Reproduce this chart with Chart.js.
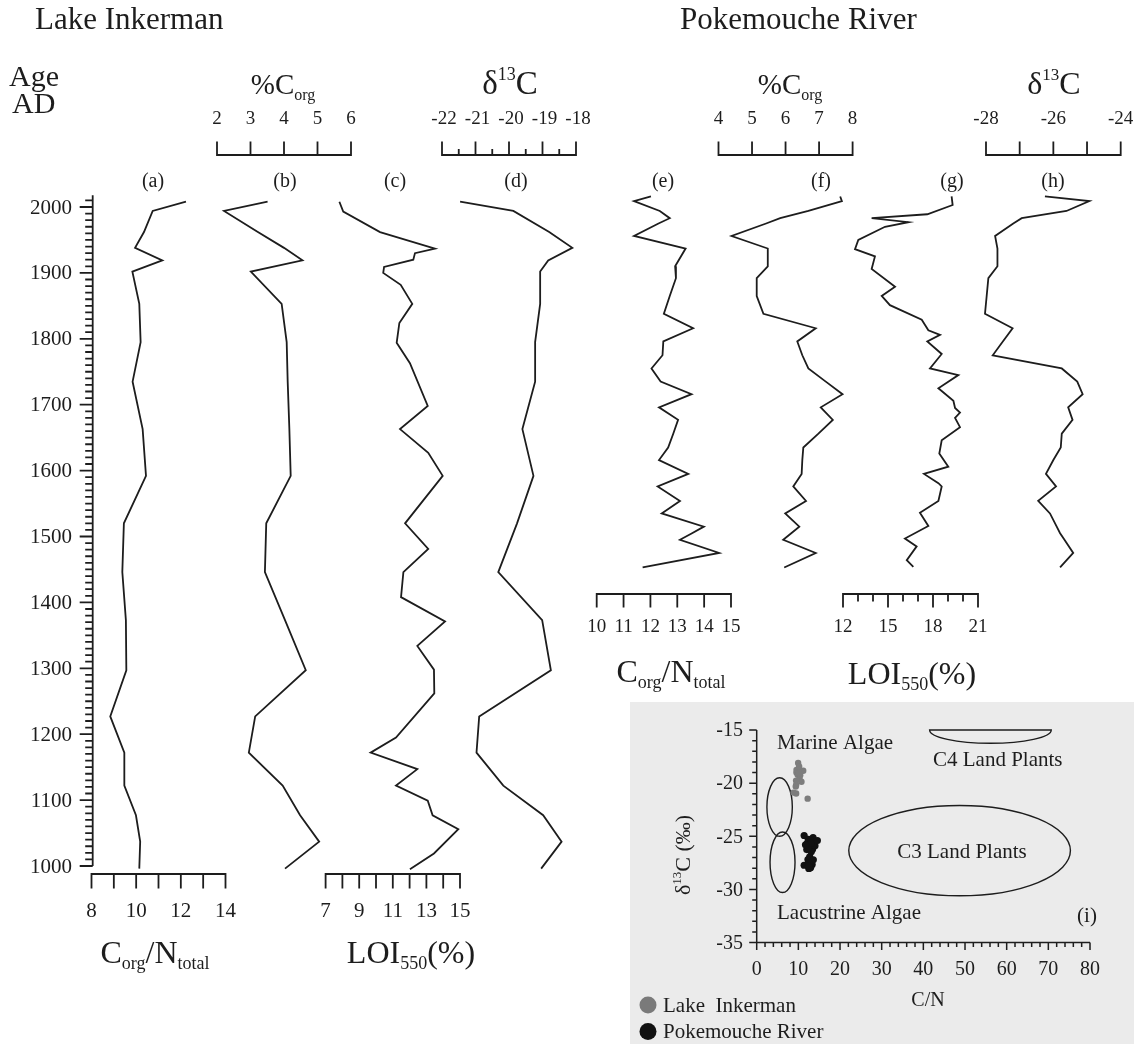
<!DOCTYPE html>
<html>
<head>
<meta charset="utf-8">
<title>Lake Inkerman and Pokemouche River sediment records</title>
<script src="https://cdn.jsdelivr.net/npm/chart.js@4.4.1/dist/chart.umd.min.js"></script>
<style>
  html, body { margin: 0; padding: 0; background: #ffffff; }
  #wrap { position: relative; width: 1138px; height: 1044px; }
  canvas { display: block; }
</style>
</head>
<body>
<div id="wrap"><canvas id="cores" width="1138" height="1044"></canvas></div>
<script>
// ---------------- Lake Inkerman core ----------------
const inkAge   = [2008, 1994, 1962, 1938, 1919, 1902, 1853, 1795, 1735, 1663, 1592, 1520, 1446, 1373, 1297, 1227, 1172, 1122, 1077, 1037, 996];
const inkCN    = [12.23, 10.74, 10.35, 9.95, 11.17, 9.83, 10.14, 10.2, 9.84, 10.29, 10.44, 9.45, 9.38, 9.54, 9.56, 8.84, 9.47, 9.47, 9.99, 10.18, 10.14];
const inkCorg  = [3.51, 2.21, 3.22, 4.0, 4.55, 3.01, 3.93, 4.08, 4.11, 4.16, 4.2, 3.47, 3.43, 4.03, 4.65, 3.14, 2.95, 3.96, 4.48, 5.05, 4.03];
const inkD13C  = [-21.46, -19.87, -18.8, -18.11, -18.83, -19.07, -19.07, -19.22, -19.22, -19.6, -19.27, -19.76, -20.32, -19.01, -18.75, -20.89, -20.97, -20.17, -18.98, -18.43, -19.04];
const inkLoiAge = [2008, 1993, 1962, 1937, 1930, 1920, 1909, 1900, 1882, 1853, 1824, 1794, 1763, 1698, 1663, 1627, 1592, 1520, 1481, 1446, 1408, 1371, 1334, 1298, 1262, 1195, 1172, 1147, 1122, 1099, 1077, 1056, 1019, 995];
const inkLoi    = [7.82, 8.05, 10.24, 13.51, 12.32, 12.22, 10.48, 10.43, 11.47, 12.16, 11.39, 11.23, 12.02, 13.08, 11.43, 13.11, 13.97, 11.73, 13.11, 11.63, 11.49, 14.11, 12.46, 13.45, 13.47, 11.19, 9.68, 12.46, 11.19, 13.08, 13.37, 14.9, 13.45, 12.02];

// ---------------- Pokemouche River core ----------------
const pokAge   = [2016, 2009, 1994, 1983, 1975, 1956, 1937, 1910, 1892, 1865, 1838, 1816, 1796, 1775, 1755, 1735, 1716, 1696, 1677, 1656, 1635, 1616, 1595, 1576, 1554, 1535, 1515, 1505, 1495, 1475, 1453];
const pokCN    = [12.02, 11.39, 12.35, 12.72, 12.3, 11.39, 13.31, 12.92, 12.95, 12.72, 12.5, 13.59, 12.48, 12.45, 12.04, 12.38, 13.53, 12.32, 13.03, 12.85, 12.66, 12.32, 13.41, 12.27, 13.1, 12.42, 13.99, 13.55, 13.1, 14.56, 11.71];
const pokCorg  = [7.63, 7.68, 6.68, 5.84, 5.42, 4.39, 5.47, 5.47, 5.14, 5.14, 5.34, 6.9, 6.35, 6.5, 6.68, 7.2, 7.7, 7.05, 7.41, 6.98, 6.53, 6.5, 6.48, 6.23, 6.61, 5.99, 6.41, 6.17, 5.93, 6.9, 5.96];
const pokD13C  = [-26.25, -24.93, -25.61, -26.94, -27.19, -27.73, -27.66, -27.66, -27.93, -27.98, -28.03, -27.21, -27.5, -27.8, -25.75, -25.29, -25.13, -25.56, -25.43, -25.75, -25.78, -26.0, -26.22, -25.92, -26.45, -26.1, -25.9, -25.8, -25.67, -25.41, -25.8];
const pokLoiAge = [2016, 2003, 1989, 1983, 1977, 1970, 1950, 1936, 1925, 1906, 1879, 1865, 1851, 1829, 1813, 1806, 1796, 1777, 1755, 1745, 1725, 1706, 1695, 1688, 1680, 1666, 1646, 1626, 1606, 1595, 1581, 1576, 1554, 1536, 1516, 1497, 1485, 1464, 1454];
const pokLoi    = [19.24, 19.31, 17.62, 13.91, 16.36, 14.8, 13.02, 12.8, 14.13, 13.91, 15.47, 14.58, 15.13, 17.25, 17.69, 18.47, 17.62, 18.58, 17.8, 19.69, 18.36, 19.36, 19.47, 19.8, 19.47, 19.8, 18.58, 18.42, 19.02, 17.4, 18.36, 18.58, 18.36, 17.13, 17.69, 16.13, 16.91, 16.25, 16.69];

// ---------------- Organic-matter source fields (C/N, δ13C) ----------------
const fieldNames    = ['Marine Algae', 'Lacustrine Algae', 'C3 Land Plants', 'C4 Land Plants'];
const fieldCN       = [5.5, 6.2, 48.7, 56.1];
const fieldD13C     = [-22.25, -27.45, -26.35, -15];
const fieldCNHalf   = [3.05, 3.0, 26.6, 14.6];
const fieldD13CHalf = [2.75, 2.85, 4.25, 1.25];

// ---------------- Tick labels ----------------
const ageTicks       = [1000, 1100, 1200, 1300, 1400, 1500, 1600, 1700, 1800, 1900, 2000];
const inkCNTicks     = [8, 10, 12, 14];
const inkCorgTicks   = [2, 3, 4, 5, 6];
const inkLoiTicks    = [7, 9, 11, 13, 15];
const inkD13CTicks   = [-22, -21, -20, -19, -18];
const pokCNTicks     = [10, 11, 12, 13, 14, 15];
const pokCorgTicks   = [4, 5, 6, 7, 8];
const pokLoiTicks    = [12, 15, 18, 21];
const pokD13CTicks   = [-28, -26, -24];
const mixCNTicks     = [0, 10, 20, 30, 40, 50, 60, 70, 80];
const mixD13CTicks   = [-15, -20, -25, -30, -35];

// ---------------- layout ----------------
const W = 1138, H = 1044;
const SERIF = '"Liberation Serif", "Times New Roman", "DejaVu Serif", serif';
const INK = '#1d1d1d';

// A linear scale spanning the whole canvas, anchored so that v0 sits at pixel p0 and v1 at p1.
function span(axis, v0, p0, v1, p1) {
  if (axis === 'x') {
    const k = (p1 - p0) / (v1 - v0);
    return { type: 'linear', axis: 'x', display: false, min: v0 - p0 / k, max: v0 + (W - p0) / k };
  }
  const k = (p0 - p1) / (v1 - v0);
  return { type: 'linear', axis: 'y', display: false, min: v0 - (H - p0) / k, max: v0 + p0 / k };
}

const pairs = (xs, ys) => xs.map((v, i) => ({ x: v, y: ys[i] }));
const profile = (vals, ages, xAxisID) => ({
  type: 'scatter', data: pairs(vals, ages), xAxisID, yAxisID: 'yAge',
  showLine: true, borderColor: INK, borderWidth: 1.8, pointRadius: 0, tension: 0,
  borderJoinStyle: 'miter', fill: false
});

// rich text: parts = [text, size, baselineShift]
function rich(ctx, x, y, parts, align) {
  let w = 0;
  parts.forEach(p => { ctx.font = p[1] + 'px ' + SERIF; w += ctx.measureText(p[0]).width; });
  let cx = align === 'center' ? x - w / 2 : align === 'right' ? x - w : x;
  ctx.textAlign = 'left';
  ctx.textBaseline = 'alphabetic';
  parts.forEach(p => {
    ctx.font = p[1] + 'px ' + SERIF;
    ctx.fillText(p[0], cx, y + (p[2] || 0));
    cx += ctx.measureText(p[0]).width;
  });
}

function seg(ctx, x1, y1, x2, y2) { ctx.moveTo(x1, y1); ctx.lineTo(x2, y2); }

// horizontal axis drawn from a chart scale
function hAxis(ctx, sc, o) {
  const px = v => sc.getPixelForValue(v);
  ctx.beginPath();
  seg(ctx, px(o.from), o.y, px(o.to), o.y);
  if (o.minor) for (let v = o.from; v <= o.to + 1e-9; v += o.minor) seg(ctx, px(v), o.y, px(v), o.y + o.dir * o.minorLen);
  for (let v = o.from; v <= o.to + 1e-9; v += o.major) seg(ctx, px(v), o.y, px(v), o.y + o.dir * o.majorLen);
  ctx.lineWidth = o.lw || 1.8;
  ctx.strokeStyle = INK;
  ctx.lineCap = 'square';
  ctx.stroke();
  ctx.fillStyle = INK;
  o.labels.forEach(v => rich(ctx, px(v) + (o.dx || 0), o.labelY, [[String(v), o.size]], 'center'));
}

const TOP_AXIS_Y = 155, TOP_LABEL_Y = 124, HEAD_Y = 94;

const coreLayout = {
  id: 'coreLayout',
  beforeDatasetsDraw(chart) {
    const ctx = chart.ctx, s = chart.scales;
    ctx.save();

    // mixing-diagram panel background
    ctx.fillStyle = '#ebebeb';
    ctx.fillRect(630, 702, 504, 342);

    ctx.fillStyle = INK;
    // site headings and age label
    rich(ctx, 35, 29, [['Lake Inkerman', 31]], 'left');
    rich(ctx, 680, 29, [['Pokemouche River', 31]], 'left');
    rich(ctx, 9, 86, [['Age', 30]], 'left');
    rich(ctx, 12, 113, [['AD', 30]], 'left');

    // age axis
    const ya = v => s.yAge.getPixelForValue(v);
    const ax = 92.7;
    ctx.beginPath();
    seg(ctx, ax, ya(2018), ax, ya(1000));
    for (let yr = 1000; yr <= 2010; yr += 10) {
      const len = yr % 100 === 0 ? 13 : 7.5;
      seg(ctx, ax - len, ya(yr), ax, ya(yr));
    }
    ctx.lineWidth = 1.8; ctx.strokeStyle = INK; ctx.lineCap = 'butt';
    ctx.stroke();
    ctx.fillStyle = INK;
    ctx.font = '21px ' + SERIF; ctx.textAlign = 'right'; ctx.textBaseline = 'middle';
    ageTicks.forEach(yr => ctx.fillText(String(yr), 72, ya(yr) + 1));

    // top axes
    hAxis(ctx, s.xInkCorg, { y: TOP_AXIS_Y, from: 2, to: 6, major: 1, majorLen: 12.5, dir: -1, labels: inkCorgTicks, labelY: TOP_LABEL_Y, size: 19 });
    hAxis(ctx, s.xInkD13C, { y: TOP_AXIS_Y, from: -22, to: -18, major: 1, majorLen: 12.5, minor: 0.5, minorLen: 5, dir: -1, labels: inkD13CTicks, labelY: TOP_LABEL_Y, size: 19, dx: 2 });
    hAxis(ctx, s.xPokCorg, { y: TOP_AXIS_Y, from: 4, to: 8, major: 1, majorLen: 12.5, dir: -1, labels: pokCorgTicks, labelY: TOP_LABEL_Y, size: 19 });
    hAxis(ctx, s.xPokD13C, { y: TOP_AXIS_Y, from: -28, to: -24, major: 1, majorLen: 12.5, dir: -1, labels: pokD13CTicks, labelY: TOP_LABEL_Y, size: 19 });

    // bottom axes
    hAxis(ctx, s.xInkCN,  { y: 874, from: 8, to: 14, major: 1, majorLen: 13.5, dir: 1, labels: inkCNTicks, labelY: 917, size: 21 });
    hAxis(ctx, s.xInkLoi, { y: 874, from: 7, to: 15, major: 1, majorLen: 13.5, dir: 1, labels: inkLoiTicks, labelY: 917, size: 21 });
    hAxis(ctx, s.xPokCN,  { y: 594, from: 10, to: 15, major: 1, majorLen: 12.5, dir: 1, labels: pokCNTicks, labelY: 632, size: 19 });
    hAxis(ctx, s.xPokLoi, { y: 594, from: 12, to: 21, major: 3, majorLen: 12.5, minor: 1, minorLen: 6.5, dir: 1, labels: pokLoiTicks, labelY: 632, size: 19 });

    ctx.fillStyle = INK;
    // proxy headings
    rich(ctx, 283, HEAD_Y, [['%C', 29], ['org', 16, 6]], 'center');
    rich(ctx, 510, HEAD_Y, [['\u03B4', 33], ['13', 18, -14], ['C', 33]], 'center');
    rich(ctx, 790, HEAD_Y, [['%C', 29], ['org', 16, 6]], 'center');
    rich(ctx, 1054, HEAD_Y, [['\u03B4', 32], ['13', 17, -14], ['C', 32]], 'center');
    rich(ctx, 155, 963, [['C', 32], ['org', 18, 6], ['/N', 32], ['total', 18, 6]], 'center');
    rich(ctx, 411, 963, [['LOI', 32], ['550', 18, 6], ['(%)', 32]], 'center');
    rich(ctx, 671, 682, [['C', 32], ['org', 18, 6], ['/N', 32], ['total', 18, 6]], 'center');
    rich(ctx, 912, 684, [['LOI', 32], ['550', 18, 6], ['(%)', 32]], 'center');

    // panel letters
    [['(a)', 153], ['(b)', 285], ['(c)', 395], ['(d)', 516], ['(e)', 663], ['(f)', 821], ['(g)', 952], ['(h)', 1053]]
      .forEach(p => rich(ctx, p[1], 187, [[p[0], 20]], 'center'));

    // mixing diagram axes
    const mx = v => s.xMix.getPixelForValue(v), my = v => s.yMix.getPixelForValue(v);
    const x0 = mx(0), yb = my(-35);
    ctx.beginPath();
    seg(ctx, x0, my(-15), x0, yb);
    seg(ctx, x0, yb, mx(80), yb);
    for (let v = -35; v <= -15; v += 1) seg(ctx, x0 - (v % 5 === 0 ? 7.5 : 4.5), my(v), x0, my(v));
    for (let v = 0; v <= 80; v += 2) seg(ctx, mx(v), yb, mx(v), yb + (v % 10 === 0 ? 7.5 : 4.5));
    ctx.lineWidth = 1.5; ctx.strokeStyle = INK; ctx.lineCap = 'butt';
    ctx.stroke();
    ctx.fillStyle = INK;
    ctx.font = '20px ' + SERIF;
    ctx.textAlign = 'right'; ctx.textBaseline = 'middle';
    mixD13CTicks.forEach(v => ctx.fillText(String(v), 743, my(v) + 1));
    ctx.textAlign = 'center'; ctx.textBaseline = 'alphabetic';
    mixCNTicks.forEach(v => ctx.fillText(String(v), mx(v), 975));
    rich(ctx, 928, 1006, [['C/N', 20]], 'center');
    ctx.save();
    ctx.translate(690, 855);
    ctx.rotate(-Math.PI / 2);
    rich(ctx, 0, 0, [['\u03B4', 22], ['13', 13, -9], ['C (\u2030)', 22]], 'center');
    ctx.restore();

    // source fields
    ctx.beginPath();
    for (let i = 0; i < fieldNames.length; i++) {
      const cx = mx(fieldCN[i]), cy = my(fieldD13C[i]);
      const rx = Math.abs(mx(fieldCN[i] + fieldCNHalf[i]) - cx);
      const ry = Math.abs(my(fieldD13C[i] + fieldD13CHalf[i]) - cy);
      ctx.moveTo(cx + rx, cy);
      if (fieldD13C[i] >= -15) {
        // field cut by the top of the diagram: lower half plus the chord
        ctx.ellipse(cx, cy, rx, ry, 0, 0, Math.PI);
        ctx.closePath();
      } else {
        ctx.ellipse(cx, cy, rx, ry, 0, 0, Math.PI * 2);
      }
    }
    ctx.lineWidth = 1.4; ctx.strokeStyle = INK;
    ctx.stroke();

    ctx.fillStyle = INK;
    rich(ctx, 777, 749, [['Marine Algae', 21]], 'left');
    rich(ctx, 933, 766, [['C4 Land Plants', 21]], 'left');
    rich(ctx, 962, 858, [['C3 Land Plants', 21]], 'center');
    rich(ctx, 777, 919, [['Lacustrine Algae', 21]], 'left');
    rich(ctx, 1087, 922, [['(i)', 21]], 'center');

    // legend
    ctx.fillStyle = '#7a7a7a';
    ctx.beginPath(); ctx.arc(648, 1005, 8.5, 0, Math.PI * 2); ctx.fill();
    ctx.fillStyle = '#111111';
    ctx.beginPath(); ctx.arc(648, 1031.5, 8.5, 0, Math.PI * 2); ctx.fill();
    ctx.fillStyle = INK;
    rich(ctx, 663, 1012, [['Lake  Inkerman', 21]], 'left');
    rich(ctx, 663, 1038, [['Pokemouche River', 21]], 'left');

    ctx.restore();
  }
};

new Chart(document.getElementById('cores'), {
  type: 'scatter',
  data: {
    datasets: [
      profile(inkCN, inkAge, 'xInkCN'),
      profile(inkCorg, inkAge, 'xInkCorg'),
      profile(inkLoi, inkLoiAge, 'xInkLoi'),
      profile(inkD13C, inkAge, 'xInkD13C'),
      profile(pokCN, pokAge, 'xPokCN'),
      profile(pokCorg, pokAge, 'xPokCorg'),
      profile(pokLoi, pokLoiAge, 'xPokLoi'),
      profile(pokD13C, pokAge, 'xPokD13C'),
      {
        label: 'Lake Inkerman', data: pairs(inkCN, inkD13C), xAxisID: 'xMix', yAxisID: 'yMix',
        showLine: false, pointRadius: 3.2, pointBorderWidth: 0, backgroundColor: '#7d7d7d', borderColor: '#7d7d7d'
      },
      {
        label: 'Pokemouche River', data: pairs(pokCN, pokD13C), xAxisID: 'xMix', yAxisID: 'yMix',
        showLine: false, pointRadius: 3.6, pointBorderWidth: 0, backgroundColor: '#111111', borderColor: '#111111'
      }
    ]
  },
  options: {
    responsive: false,
    animation: false,
    devicePixelRatio: 1,
    events: [],
    layout: { padding: 0, autoPadding: false },
    plugins: { legend: { display: false }, tooltip: { enabled: false }, title: { display: false } },
    scales: {
      yAge:     span('y', 1000, 866, 2000, 207),
      xInkCN:   span('x', 8, 91.5, 14, 225.5),
      xInkCorg: span('x', 2, 217, 6, 351),
      xInkLoi:  span('x', 7, 325.6, 15, 460),
      xInkD13C: span('x', -22, 442, -18, 576),
      xPokCN:   span('x', 10, 596.7, 15, 731),
      xPokCorg: span('x', 4, 718.5, 8, 852.6),
      xPokLoi:  span('x', 12, 843, 21, 978),
      xPokD13C: span('x', -28, 986, -24, 1120.7),
      xMix:     span('x', 0, 756.7, 80, 1090),
      yMix:     span('y', -35, 942.5, -15, 730)
    }
  },
  plugins: [coreLayout]
});
</script>
</body>
</html>
